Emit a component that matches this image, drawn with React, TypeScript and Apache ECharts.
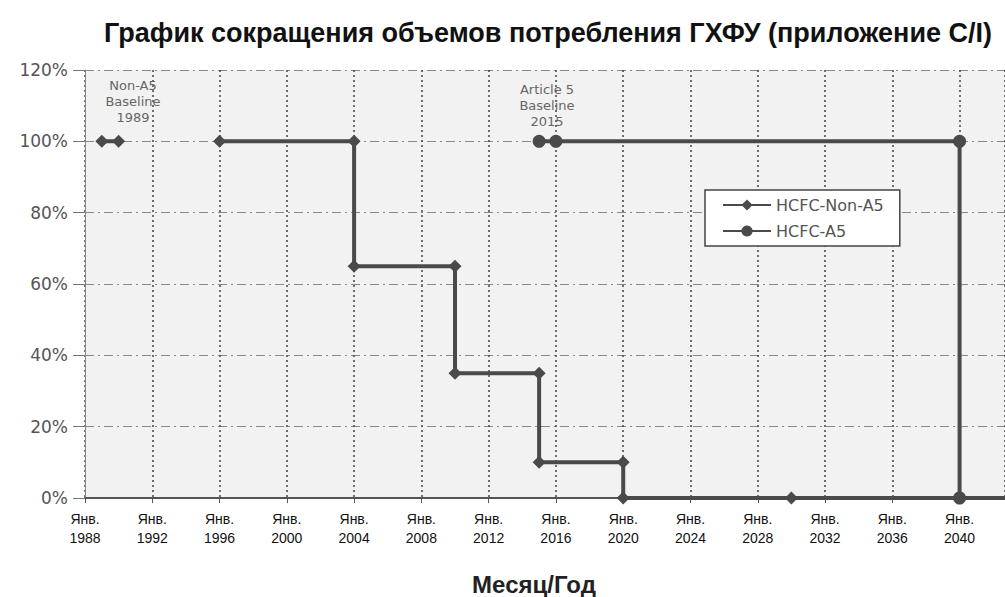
import React, { useEffect, useRef } from "react";
import * as echarts from "echarts";

// ---- data ----
const xTickYears = [1988, 1992, 1996, 2000, 2004, 2008, 2012, 2016, 2020, 2024, 2028, 2032, 2036, 2040];
const xMin = 1988;
const xMax = 2042.7;
const yTicks = [0, 20, 40, 60, 80, 100, 120];

const nonA5Years: (number | string)[] = [1989, 1990, 1993, 1996, 2004, 2004, 2010, 2010, 2015, 2015, 2020, 2020, 2030, 2045];
const nonA5Values: (number | string)[] = [100, 100, "-", 100, 100, 65, 65, 35, 35, 10, 10, 0, 0, 0];

const a5Years = [2015, 2016, 2040, 2040, 2045];
const a5Values = [100, 100, 100, 0, 0];

const seriesNames = ["HCFC-Non-A5", "HCFC-A5"];
const titleText = "График сокращения объемов потребления ГХФУ (приложение С/I)";
const xAxisName = "Месяц/Год";
const monthLabel = "Янв.";
const note1 = "Non-A5\nBaseline\n1989";
const note2 = "Article 5\nBaseline\n2015";

function buildData(xs: (number | string)[], ys: (number | string)[]) {
  return xs.map((x, i) => {
    const last = i === xs.length - 1;
    return last ? { value: [x, ys[i]], symbol: "none" } : { value: [x, ys[i]] };
  });
}

export default function App() {
  const ref = useRef<HTMLDivElement>(null);
  useEffect(() => {
    if (!ref.current) return;
    const chart = echarts.init(ref.current, undefined, { renderer: "svg" });
    const lineColor = "#4a4a4a";
    chart.setOption({
      animation: false,
      backgroundColor: "#ffffff",
      grid: {
        left: 85,
        right: 0,
        top: 70,
        bottom: 99,
        show: true,
        backgroundColor: "#f2f2f2",
        borderWidth: 0,
      },
      legend: {
        orient: "vertical",
        left: 705,
        top: 190,
        padding: [7, 16, 7, 17],
        itemWidth: 48,
        itemHeight: 14,
        itemGap: 10,
        backgroundColor: "#ffffff",
        borderColor: "#444",
        borderWidth: 1.5,
        borderRadius: 0,
        textStyle: { fontFamily: "DejaVu Sans", fontSize: 16, color: "#555" },
        data: seriesNames,
      },
      xAxis: {
        type: "value",
        min: xMin,
        max: xMax,
        interval: 4,
        axisLine: { show: true, lineStyle: { color: "#555", width: 2 } },
        axisTick: { show: true, length: 5, lineStyle: { color: "#555" } },
        axisLabel: {
          margin: 11,
          fontFamily: "Liberation Sans",
          fontSize: 14,
          lineHeight: 19,
          color: "#111",
          showMaxLabel: false,
          formatter: (v: number) => (xTickYears.includes(v) ? `${monthLabel}\n${v}` : ""),
        },
        splitLine: {
          show: true,
          lineStyle: { color: "#444", width: 1.5, type: [2, 3] },
        },
      },
      yAxis: {
        type: "value",
        min: yTicks[0],
        max: yTicks[yTicks.length - 1],
        interval: 20,
        axisLine: { show: true, lineStyle: { color: "#888", width: 1 } },
        axisTick: { show: true, length: 12, lineStyle: { color: "#777" } },
        axisLabel: {
          margin: 17,
          fontFamily: "DejaVu Sans",
          fontSize: 17,
          color: "#555",
          formatter: "{value}%",
        },
        splitLine: {
          show: true,
          lineStyle: { color: "#888", width: 1, type: [9, 4, 2, 4] },
        },
      },
      series: [
        {
          name: seriesNames[0],
          type: "line",
          data: buildData(nonA5Years, nonA5Values),
          symbol: "diamond",
          symbolSize: 13,
          connectNulls: false,
          lineStyle: { color: lineColor, width: 4 },
          itemStyle: { color: lineColor },
          z: 3,
        },
        {
          name: seriesNames[1],
          type: "line",
          data: buildData(a5Years, a5Values),
          symbol: "circle",
          symbolSize: 13,
          lineStyle: { color: lineColor, width: 4 },
          itemStyle: { color: lineColor },
          z: 4,
        },
      ],
      graphic: [
        {
          type: "text",
          x: 548,
          y: 33,
          style: {
            text: titleText,
            align: "center",
            verticalAlign: "middle",
            textAlign: "center",
            textVerticalAlign: "middle",
            fontFamily: "Liberation Sans",
            fontWeight: "bold",
            fontSize: 27,
            fill: "#111",
          },
        },
        {
          type: "text",
          x: 534,
          y: 584,
          style: {
            text: xAxisName,
            align: "center",
            verticalAlign: "middle",
            textAlign: "center",
            textVerticalAlign: "middle",
            fontFamily: "Liberation Sans",
            fontWeight: "bold",
            fontSize: 24,
            fill: "#222",
          },
        },
        {
          type: "text",
          x: 133,
          y: 101,
          z: 10,
          style: {
            text: note1,
            align: "center",
            verticalAlign: "middle",
            textAlign: "center",
            textVerticalAlign: "middle",
            fontFamily: "DejaVu Sans",
            fontSize: 13,
            lineHeight: 16,
            fill: "#666",
          },
        },
        {
          type: "text",
          x: 547,
          y: 105,
          z: 10,
          style: {
            text: note2,
            align: "center",
            verticalAlign: "middle",
            textAlign: "center",
            textVerticalAlign: "middle",
            fontFamily: "DejaVu Sans",
            fontSize: 13,
            lineHeight: 16,
            fill: "#666",
          },
        },
      ],
    });
    return () => chart.dispose();
  }, []);
  return (
    <div
      ref={ref}
      style={{ position: "fixed", left: 0, top: 0, width: 1005, height: 597 }}
    />
  );
}
